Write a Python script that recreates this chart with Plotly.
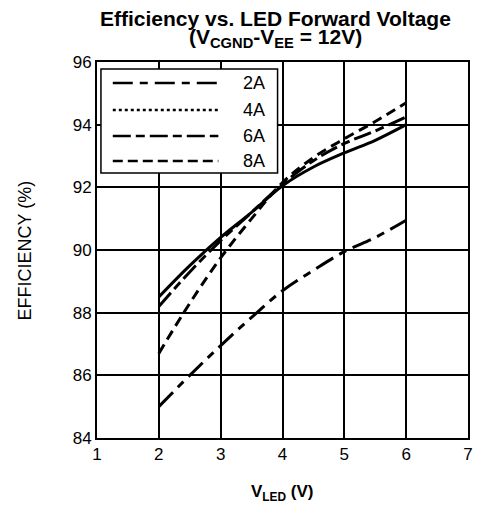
import plotly.graph_objects as go

v_led = [2, 2.5, 3, 3.5, 4, 4.5, 5, 5.5, 6]
eff_2a = [85.0, 86.0, 86.95, 87.85, 88.7, 89.35, 89.95, 90.4, 90.95]
eff_4a = [88.5, 89.5, 90.4, 91.2, 92.05, 92.65, 93.1, 93.5, 94.0]
eff_6a = [88.2, 89.3, 90.3, 91.2, 92.1, 92.85, 93.4, 93.8, 94.25]
eff_8a = [86.7, 88.3, 89.75, 91.0, 92.15, 92.95, 93.55, 94.1, 94.7]
series_names = ["2A", "4A", "6A", "8A"]
x_ticks = [1, 2, 3, 4, 5, 6, 7]
y_ticks = [84, 86, 88, 90, 92, 94, 96]

dash_plot = ["20px,7px,8px,7px", "solid", "18px,5px,9px,5px", "10px,6px"]
dash_legend = ["20px,7px,8px,7px", "3px,3px", "18px,5px,9px,5px", "10px,5px"]

fig = go.Figure()
for name, ys, d in zip(series_names, [eff_2a, eff_4a, eff_6a, eff_8a], dash_plot):
    fig.add_trace(go.Scatter(x=v_led, y=ys, mode="lines", name=name,
                             line=dict(color="black", width=3, dash=d, shape="spline"),
                             showlegend=False))

W, H = 471, 496
L, R, T, B = 89, 6, 54, 66
pw, ph = W - L - R, H - T - B

def px(x):
    return (x - L) / pw

def py(y):
    return (H - B - y) / ph

FONT = "Liberation Sans, Arial"
shapes = [dict(type="rect", xref="paper", yref="paper", x0=px(93), x1=px(272),
               y0=py(165), y1=py(61), line=dict(color="black", width=1.5),
               fillcolor="white", layer="above")]
annotations = []
rows = [75, 102, 128, 153]
for name, d, r in zip(series_names, dash_legend, rows):
    shapes.append(dict(type="line", xref="paper", yref="paper", x0=px(105), x1=px(212),
                       y0=py(r), y1=py(r), line=dict(color="black", width=2.5, dash=d),
                       layer="above"))
    annotations.append(dict(xref="paper", yref="paper", x=px(248), y=py(r), text=name,
                            showarrow=False, xanchor="center", yanchor="middle",
                            font=dict(size=18, color="black", family=FONT)))

annotations += [
    dict(xref="paper", yref="paper", x=px(269.5), y=py(10), text="<b>Efficiency vs. LED Forward Voltage</b>",
         showarrow=False, xanchor="center", yanchor="middle", font=dict(size=21, family=FONT)),
    dict(xref="paper", yref="paper", x=px(269.5), y=py(30),
         text="<b>(V<sub>CGND</sub>-V<sub>EE</sub> = 12V)</b>",
         showarrow=False, xanchor="center", yanchor="middle", font=dict(size=21, family=FONT)),
    dict(xref="paper", yref="paper", x=px(16.5), y=py(242), text="EFFICIENCY (%)", textangle=-90,
         showarrow=False, xanchor="center", yanchor="middle", font=dict(size=18, family=FONT)),
    dict(xref="paper", yref="paper", x=px(277), y=py(485), text="<b>V<sub>LED</sub> (V)</b>",
         showarrow=False, xanchor="center", yanchor="middle", font=dict(size=17, family=FONT)),
]

fig.update_layout(
    width=W, height=H,
    margin=dict(l=L, r=R, t=T, b=B),
    paper_bgcolor="white", plot_bgcolor="white",
    font=dict(family=FONT, size=17, color="black"),
    xaxis=dict(range=[1, 7], tickvals=x_ticks, showgrid=True, gridcolor="black", gridwidth=1.5,
               showline=True, linecolor="black", linewidth=2, mirror=True, zeroline=False,
               ticks=""),
    yaxis=dict(range=[84, 96], tickvals=y_ticks, showgrid=True, gridcolor="black", gridwidth=1.5,
               showline=True, linecolor="black", linewidth=2, mirror=True, zeroline=False,
               ticks=""),
    shapes=shapes, annotations=annotations,
)
fig.write_html("out.html")
